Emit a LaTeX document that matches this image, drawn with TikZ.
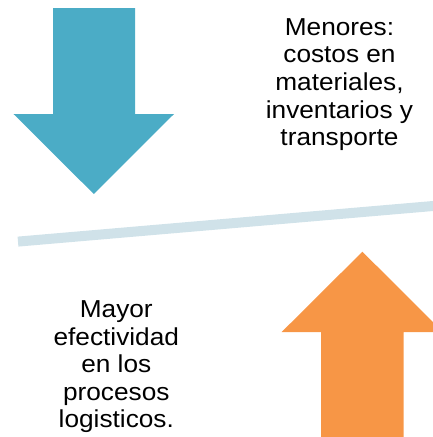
\documentclass[tikz,border=0pt]{standalone}
\usepackage{fontspec}
\setmainfont{Liberation Sans}[FakeStretch=1.07]
\definecolor{arrowblue}{HTML}{4BACC6}
\definecolor{arroworange}{HTML}{F79646}
\definecolor{linegrey}{HTML}{D0E2E9}
\begin{document}
\begin{tikzpicture}[x=1pt,y=-1pt,
  lbl/.style={align=center,inner sep=0pt,anchor=north,font=\fontsize{24.5}{27.6}\selectfont,text=black}]
\useasboundingbox (0,0) rectangle (433,437);
\clip (0,0) rectangle (433,437);
% divider
\draw[linegrey,line width=10pt] (18,241.6) -- (440,205.4);
% blue down arrow
\fill[arrowblue] (53,8) -- (135,8) -- (135,114) -- (174,114) -- (93.8,194) -- (13.5,114) -- (53,114) -- cycle;
% orange up arrow
\fill[arroworange] (362.4,251.7) -- (443,332) -- (403.7,332) -- (403.7,440) -- (321,440) -- (321,332) -- (281.7,332) -- cycle;
% texts
\node[lbl] (top) at (339.5,18.3) {Menores:\\costos en\\materiales,\\inventarios y\\transporte};
\node[lbl] (bottom) at (116.3,300.5) {Mayor\\efectividad\\en los\\procesos\\logisticos.};
\end{tikzpicture}
\end{document}
